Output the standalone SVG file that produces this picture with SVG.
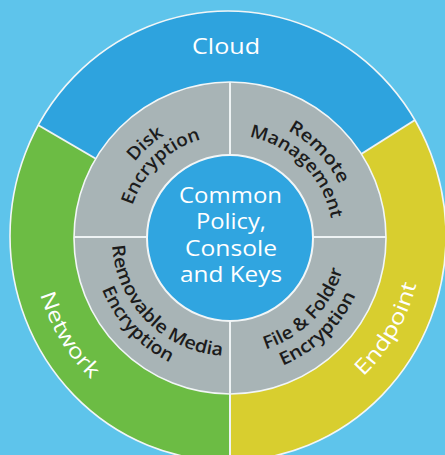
<svg xmlns="http://www.w3.org/2000/svg" width="445" height="455" viewBox="0 0 445 455">
  <defs>
    <style>
      .ring-label { font-family: "Open Sans", "Liberation Sans", sans-serif; font-size: 21px; fill: #ffffff; }
      .seg-label { font-family: "Open Sans", "Liberation Sans", sans-serif; font-size: 18px; font-weight: 600; fill: #1c1c1c; }
      .core-label { font-family: "Open Sans", "Liberation Sans", sans-serif; font-size: 21px; fill: #ffffff; text-anchor: middle; }
      .sep { stroke: #eef3f4; stroke-width: 2; fill: none; }
      .edge { stroke: #f2f6f7; stroke-width: 1.6; }
    </style>
    <clipPath id="outer-clip">
      <ellipse cx="228" cy="236" rx="218" ry="225"/>
    </clipPath>
    <!-- label baselines: arcs about the common centre (230,238) -->
    <path id="p-network" d="M56.8,142 A198,198 0 0 0 233.5,436"/>
    <path id="p-endpoint" d="M230,430 A192,192 0 0 0 396.3,142"/>
    <path id="p-disk" d="M110.7,263.4 A122,122 0 0 1 267.7,122"/>
    <path id="p-enc-ul" d="M130.1,262.9 A103,103 0 0 1 258.4,139"/>
    <path id="p-remote" d="M200.5,119.6 A122,122 0 0 1 347.3,271.6"/>
    <path id="p-mgmt" d="M203.3,138.5 A103,103 0 0 1 329.5,264.7"/>
    <path id="p-removable" d="M116,207.5 A118,118 0 0 0 260.5,352"/>
    <path id="p-enc-ll" d="M98,197.6 A138,138 0 0 0 261,372.5"/>
    <path id="p-file" d="M201.7,351.5 A117,117 0 0 0 342.5,205.8"/>
    <path id="p-enc-lr" d="M192,370.7 A138,138 0 0 0 363.9,204.6"/>
  </defs>

  <rect x="0" y="0" width="445" height="455" fill="#5ec4eb"/>

  <!-- outer ring segments -->
  <g id="cloud">
    <polygon points="230,237 -10,97 -10,-10 455,-10 470.5,85" fill="#2ea3de" clip-path="url(#outer-clip)"/>
    <text class="ring-label" x="226" y="54" text-anchor="middle" textLength="68" lengthAdjust="spacingAndGlyphs">Cloud</text>
  </g>
  <g id="network">
    <polygon points="230,237 -10,97 -10,465 230,465" fill="#6cbc44" clip-path="url(#outer-clip)"/>
    <text class="ring-label" text-anchor="middle"><textPath href="#p-network" startOffset="50%" textLength="100" lengthAdjust="spacingAndGlyphs">Network</textPath></text>
  </g>
  <g id="endpoint">
    <polygon points="230,237 230,465 455,465 470.5,85" fill="#d8ce2f" clip-path="url(#outer-clip)"/>
    <text class="ring-label" text-anchor="middle"><textPath href="#p-endpoint" startOffset="50%" textLength="108" lengthAdjust="spacingAndGlyphs">Endpoint</textPath></text>
  </g>

  <!-- separators and outlines -->
  <g id="dividers">
    <line class="sep" x1="230" y1="237" x2="38" y2="125" stroke-width="1.6"/>
    <line class="sep" x1="230" y1="237" x2="415" y2="120" stroke-width="1.6"/>
    <line class="sep" x1="230" y1="237" x2="230" y2="455" stroke-width="1.6"/>
    <ellipse cx="228" cy="236" rx="218" ry="225" fill="none" class="edge"/>
  </g>

  <!-- middle ring -->
  <g id="middle-ring">
    <circle cx="230" cy="238" r="156" fill="#a8b4b6" class="edge"/>
    <line class="sep" x1="230" y1="82" x2="230" y2="394"/>
    <line class="sep" x1="74" y1="237" x2="386" y2="237"/>
  </g>

  <g id="disk-encryption">
    <text class="seg-label" text-anchor="middle"><textPath href="#p-disk" startOffset="50%" textLength="40" lengthAdjust="spacingAndGlyphs">Disk</textPath></text>
    <text class="seg-label" text-anchor="middle"><textPath href="#p-enc-ul" startOffset="50%" textLength="99" lengthAdjust="spacingAndGlyphs">Encryption</textPath></text>
  </g>
  <g id="remote-management">
    <text class="seg-label" text-anchor="middle"><textPath href="#p-remote" startOffset="50%" textLength="76" lengthAdjust="spacingAndGlyphs">Remote</textPath></text>
    <text class="seg-label" text-anchor="middle"><textPath href="#p-mgmt" startOffset="50%" textLength="123" lengthAdjust="spacingAndGlyphs">Management</textPath></text>
  </g>
  <g id="removable-media-encryption">
    <text class="seg-label" text-anchor="middle"><textPath href="#p-removable" startOffset="50%" textLength="170" lengthAdjust="spacingAndGlyphs">Removable Media</textPath></text>
    <text class="seg-label" text-anchor="middle"><textPath href="#p-enc-ll" startOffset="50%" textLength="102" lengthAdjust="spacingAndGlyphs">Encryption</textPath></text>
  </g>
  <g id="file-folder-encryption">
    <text class="seg-label" text-anchor="middle"><textPath href="#p-file" startOffset="50%" textLength="115" lengthAdjust="spacingAndGlyphs">File &amp; Folder</textPath></text>
    <text class="seg-label" text-anchor="middle"><textPath href="#p-enc-lr" startOffset="50%" textLength="104" lengthAdjust="spacingAndGlyphs">Encryption</textPath></text>
  </g>

  <!-- core -->
  <g id="core">
    <circle cx="230" cy="238" r="83" fill="#30a5e0" stroke="#f2f6f7" stroke-width="2"/>
    <text class="core-label" x="230.5" y="203" textLength="103" lengthAdjust="spacingAndGlyphs">Common</text>
    <text class="core-label" x="231" y="229" textLength="70" lengthAdjust="spacingAndGlyphs">Policy,</text>
    <text class="core-label" x="231" y="255.5" textLength="92" lengthAdjust="spacingAndGlyphs">Console</text>
    <text class="core-label" x="231" y="282" textLength="102" lengthAdjust="spacingAndGlyphs">and Keys</text>
  </g>
</svg>
